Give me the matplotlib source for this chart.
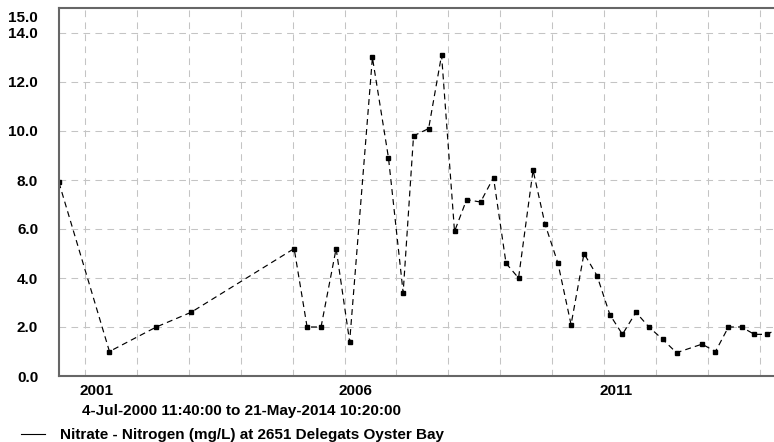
import pandas as pd
import matplotlib
matplotlib.use('Agg')
import matplotlib.pyplot as plt
import matplotlib.transforms as mtransforms
from matplotlib.lines import Line2D

plt.rcParams['font.family'] = ['Liberation Sans', 'DejaVu Sans']
plt.rcParams['font.weight'] = 'bold'

# sample dates and nitrate values
dates = ['2000-07-04', '2001-06-24', '2002-05-19', '2003-01-19', '2005-01-12',
         '2005-04-13', '2005-07-20', '2005-11-03', '2006-02-06', '2006-07-16',
         '2006-11-06', '2007-02-17', '2007-05-01', '2007-08-15', '2007-11-14',
         '2008-02-13', '2008-05-08', '2008-08-14', '2008-11-13', '2009-02-09',
         '2009-05-08', '2009-08-18', '2009-11-10', '2010-02-09', '2010-05-12',
         '2010-08-11', '2010-11-10', '2011-02-09', '2011-05-08', '2011-08-11',
         '2011-11-10', '2012-02-14', '2012-05-22', '2012-11-17', '2013-02-20',
         '2013-05-22', '2013-08-22', '2013-11-20', '2014-02-20', '2014-05-21']
nitrate = [7.9, 1.0, 2.0, 2.6, 5.2,
           2.0, 2.0, 5.2, 1.4, 13.0,
           8.9, 3.4, 9.8, 10.1, 13.1,
           5.9, 7.2, 7.1, 8.1, 4.6,
           4.0, 8.4, 6.2, 4.6, 2.1,
           5.0, 4.1, 2.5, 1.7, 2.6,
           2.0, 1.5, 0.95, 1.3, 1.0,
           2.0, 2.0, 1.7, 1.7, 2.0]

start = '2000-07-04 11:40:00'
end = '2014-05-21 10:20:00'
year_ticks = [str(y) + '-01-01' for y in range(2001, 2015)]
year_labels = ['2001', '2006', '2011']
y_ticks = [0, 2, 4, 6, 8, 10, 12, 14]
y_max = 15

subtitle = '4-Jul-2000 11:40:00 to 21-May-2014 10:20:00'
legend_label = 'Nitrate - Nitrogen (mg/L) at 2651 Delegats Oyster Bay'

W, H = 774, 442
FS = 11
fig = plt.figure(figsize=(W / 100, H / 100), dpi=100)
ax = fig.add_axes([59 / W, (H - 376) / H, (780.3 - 59) / W, (376 - 8.5) / H])

x = pd.to_datetime(dates)
ax.plot(x, nitrate, color='black', linewidth=0.85, linestyle=(0, (5, 3.5)),
        marker='s', markersize=2.5)

ax.set_xlim(pd.Timestamp(start), pd.Timestamp(end))
ax.set_ylim(0, y_max)

# year grid lines, labels sit slightly right of the year start
ax.set_xticks(pd.to_datetime(year_ticks))
ax.set_xticklabels([])
lab_pos = [pd.Timestamp(y + '-01-01') + pd.Timedelta(days=80) for y in year_labels]
ax.set_xticks(lab_pos, minor=True)
ax.set_xticklabels(year_labels, minor=True)
ax.tick_params(axis='x', which='both', length=0, pad=6, labelsize=FS)

ax.set_yticks(y_ticks)
ax.set_yticklabels([f'{v:.1f}' for v in y_ticks])
ax.tick_params(axis='y', length=0, pad=15, labelsize=FS)
off = mtransforms.ScaledTranslation(-15 / 72, -9.5 / 100, fig.dpi_scale_trans)
ax.text(0, y_max, f'{y_max:.1f}', transform=ax.get_yaxis_transform() + off,
        ha='right', va='center', fontsize=FS, fontweight='bold')

ax.grid(True, which='major', color='#c4c4c4', linewidth=0.75,
        linestyle=(0, (6.4, 5.1)))
ax.set_axisbelow(True)

for side in ['left', 'top', 'bottom']:
    ax.spines[side].set_color('#666666')
    ax.spines[side].set_linewidth(1.5)
ax.spines['right'].set_visible(False)

fig.text(82 / W, 1 - 411 / H, subtitle, ha='left', va='center',
         fontsize=FS, fontweight='bold')
fig.add_artist(Line2D([20.7 / W, 45 / W], [1 - 434.3 / H] * 2,
                      color='black', linewidth=0.8))
fig.text(60 / W, 1 - 435 / H, legend_label, ha='left', va='center',
         fontsize=FS, fontweight='bold')

fig.savefig('out.png', dpi=100)
